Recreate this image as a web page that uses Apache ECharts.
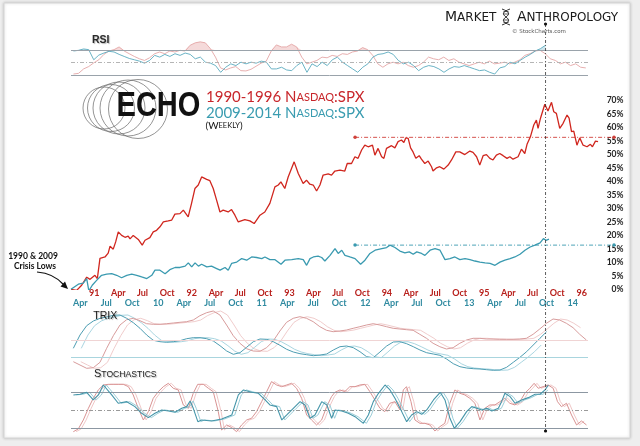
<!DOCTYPE html>
<html><head><meta charset="utf-8">
<script src="https://cdn.jsdelivr.net/npm/echarts@6/dist/echarts.min.js"></script>
<style>html,body{margin:0;padding:0;background:#eeeeee;}#c{width:640px;height:446px;}</style>
</head><body><div id="c"></div>
<script>
// ---------------- DATA ----------------
const redStartDate = '1990-10-06';   // 1990 crisis low (week 0 of red series)
const tealStartDate = '2009-02-27';  // 2009 crisis low (week 0 of teal series)

const redTickFirst = '1991-01-01';
const redTickLabels = ['91','Apr','Jul','Oct','92','Apr','Jul','Oct','93','Apr','Jul','Oct','94','Apr','Jul','Oct','95','Apr','Jul','Oct','96'];
const tealTickFirst = '2009-04-01';
const tealTickLabels = ['Apr','Jul','Oct','10','Apr','Jul','Oct','11','Apr','Jul','Oct','12','Apr','Jul','Oct','13','Apr','Jul','Oct','14'];
const pctTicks = [0,5,10,15,20,25,30,35,40,45,50,55,60,65,70];

// [weeks since low, % gain]
const redPrice = [[0,0],[3.0,-0.4],[5.7,1.5],[8.4,4.5],[10.2,3.7],[12.8,5.2],[14.1,4.0],[15.5,11.5],[18.2,12.0],[19.9,13.4],[20.9,16.0],[22.6,14.9],[23.9,17.6],[25.3,21.3],[27.1,20.0],[28.9,19.3],[30.6,19.7],[31.6,18.7],[33.3,20.0],[34.2,20.4],[36.0,18.5],[38.1,16.4],[39.6,18.2],[42.2,19.2],[44.0,21.3],[45.8,21.9],[47.6,23.2],[49.4,25.0],[52.0,25.4],[53.9,25.7],[55.6,27.9],[58.3,28.1],[60.1,29.4],[62.7,26.9],[64.5,31.9],[66.3,37.4],[68.1,38.7],[69.9,41.7],[72.6,40.8],[74.3,40.3],[76.1,37.4],[77.9,33.1],[79.7,28.7],[81.4,29.4],[84.1,28.7],[85.9,29.6],[87.7,27.5],[89.5,25.0],[93.0,25.9],[95.7,25.4],[98.0,24.4],[101.1,27.5],[103.7,28.7],[106.4,31.9],[109.1,38.0],[110.9,38.7],[112.3,39.9],[114.4,37.4],[116.2,41.7],[119.4,47.3],[121.6,43.0],[124.2,39.3],[126.0,40.5],[127.8,39.0],[129.6,38.7],[131.4,36.5],[133.2,38.7],[134.9,42.4],[137.6,42.8],[139.4,42.4],[141.2,43.9],[143.9,44.2],[146.5,43.9],[147.8,46.7],[150.1,46.7],[151.9,49.2],[153.6,48.6],[155.5,51.7],[157.2,53.5],[159.0,52.9],[161.3,53.5],[162.6,49.8],[164.3,52.3],[166.2,49.2],[167.4,48.6],[168.8,52.3],[171.5,53.3],[173.3,52.5],[175.0,54.8],[176.8,55.4],[178.1,54.5],[179.1,56.2],[180.4,56.0],[181.7,52.5],[183.0,51.0],[184.5,48.6],[186.3,49.6],[187.5,48.3],[189.3,46.7],[191.1,47.6],[192.9,45.5],[193.7,43.9],[195.6,45.1],[197.3,45.5],[199.5,44.6],[201.8,46.1],[203.6,48.0],[205.9,51.0],[208.0,51.0],[210.7,50.0],[213.4,51.3],[215.1,50.8],[217.0,49.2],[218.7,46.1],[220.5,49.6],[222.3,50.0],[224.1,48.6],[225.8,48.0],[227.6,49.8],[229.4,50.4],[231.2,49.6],[233.3,48.6],[234.8,49.2],[236.5,48.3],[239.2,49.2],[241.0,52.0],[242.8,50.4],[244.0,53.8],[245.8,56.6],[247.6,61.0],[249.0,62.8],[249.9,59.7],[251.2,63.5],[253.5,68.7],[255.2,66.2],[257.1,69.4],[258.3,65.9],[259.7,65.3],[261.5,59.7],[263.3,61.6],[265.4,64.7],[266.5,63.5],[267.8,58.5],[269.0,58.7],[270.7,53.5],[272.2,56.2],[274.0,53.5],[276.1,52.9],[277.9,53.8],[279.0,52.9],[280.6,55.0],[282.0,54.8]];
const tealPrice = [[0,0],[3.7,1.9],[6.2,2.3],[7.9,4.0],[9.0,-0.6],[10.7,1.5],[12.9,3.3],[15.4,5.2],[18.0,5.6],[20.5,5.8],[23.0,5.2],[25.5,4.3],[28.1,5.2],[30.6,5.6],[33.1,5.2],[35.6,4.6],[38.2,4.0],[40.7,5.2],[42.3,7.1],[44.8,7.1],[47.4,5.8],[49.8,7.3],[52.4,8.1],[54.9,8.1],[57.5,8.6],[59.1,9.8],[60.8,8.3],[62.5,9.8],[64.2,8.6],[65.8,9.3],[68.4,8.3],[70.8,8.6],[73.4,7.7],[75.1,7.1],[77.6,8.1],[79.2,7.1],[80.9,9.6],[83.5,10.1],[86.0,11.4],[88.5,10.8],[91.0,12.0],[93.5,11.8],[96.1,11.4],[97.7,12.0],[100.2,11.0],[102.8,11.0],[105.8,9.3],[107.8,10.8],[111.2,11.0],[114.5,11.4],[117.0,11.0],[118.7,8.9],[120.4,11.4],[122.1,12.0],[124.5,12.3],[126.3,11.8],[127.9,10.5],[130.5,12.6],[133.0,15.1],[134.6,13.3],[136.4,14.5],[138.0,12.6],[140.5,12.0],[143.1,11.4],[145.9,9.3],[148.1,10.8],[150.6,13.3],[153.2,14.5],[156.6,15.1],[159.0,15.5],[160.7,16.4],[163.2,15.5],[165.7,14.2],[168.2,13.5],[170.4,13.9],[172.4,13.0],[174.2,13.9],[176.6,13.3],[178.3,12.6],[180.9,14.5],[183.4,15.1],[185.9,14.5],[188.4,11.0],[190.9,11.4],[193.4,12.0],[195.9,11.0],[198.5,11.4],[201.0,11.0],[203.5,10.5],[206.0,10.1],[208.6,9.8],[211.1,9.6],[213.6,8.9],[216.1,10.1],[218.6,10.8],[221.2,11.4],[223.6,12.0],[226.2,13.0],[228.7,14.5],[231.3,15.7],[233.7,16.4],[236.3,17.2],[238.0,18.8],[239.3,18.2],[240.8,18.6]];

const redRefStartWeek = 152.0, redRefLevel = 56.4;
const tealRefStartWeek = 143.1, tealRefLevel = 16.4;
const markerRedWeek = 253.9;  // vertical dashed marker (red-series week)

// RSI samples (uniform sampling in weeks)
const redRsiStart = 1.32, redRsiStep = 2.714;
const redRsi = [31.6,32.7,39.9,43.7,49.7,54.7,63.4,68.9,71.1,75.5,68.9,64.5,60.1,56.3,53.6,57.9,64.5,67.3,64.5,68.9,67.3,70,68.9,78.2,82.1,83.7,82.1,72.7,59,41.5,38.2,41.5,43.7,37.1,36.6,39.3,44.2,49.2,52.5,68.9,78.8,75.5,75.5,79.9,75.5,59,48.1,50.8,53.6,59,57.9,61.8,60.1,64.5,63.4,67.3,68.9,74.4,71.1,61.8,48.1,42.6,48.1,50.8,48.1,50.8,45.3,42.6,45.3,50.8,59,56.3,54.7,59,53.6,56.3,50.8,48.1,45.3,48.1,50.8,48.1,52.5,48.1,49.2,50.8,48.1,50.8,54.7,61.8,64.5,68.9,70,64.5,56.3,53.6,48.1,50.8,45.3,48.1,42.6,41.5];
const tealRsiStart = 1.24, tealRsiStep = 2.557;
const tealRsi = [68.9,70,72.2,71.1,54.7,62.3,65.6,68.4,67.3,63.4,60.1,56.8,54.7,52.5,49.2,53.6,61.8,59,63.4,60.1,64.5,61.8,65.6,63.4,56.3,59,50.8,49.2,45.3,34.4,42.6,48.1,45.3,50.8,48.1,50.8,49.2,52.5,50.8,39.9,39.9,42.6,38.2,37.1,45.3,50.8,34.4,48.1,43.7,50.8,45.3,54.7,59,50.8,45.3,39.9,34.4,42.6,48.1,59,63.4,64.5,67.3,63.4,53.6,48.1,50.8,45.3,37.1,42.6,45.3,43.7,39.9,34.4,39.9,43.7,42.6,45.3,42.6,39.9,37.1,38.2,34.4,31.6,41.5,43.7,50.8,48.1,53.6,59,63.4,68.9,72.7,78.2];

// TRIX samples
const redTrixStart = 1.25, redTrixStep = 3.565;
const redTrix = [-0.217,-0.25,-0.283,-0.277,-0.223,-0.083,0.043,0.15,0.203,0.217,0.193,0.163,0.157,0.157,0.163,0.17,0.177,0.183,0.2,0.243,0.273,0.29,0.25,0.15,0.043,-0.033,-0.087,-0.11,-0.113,-0.077,-0.01,0.09,0.177,0.217,0.233,0.217,0.183,0.133,0.097,0.083,0.09,0.1,0.117,0.133,0.15,0.163,0.15,0.133,0.117,0.11,0.103,0.097,0.057,0.017,-0.033,-0.067,-0.09,-0.077,-0.033,0,0.017,0.017,0.01,0.01,0.007,0.007,0.007,0.01,0.017,0.057,0.11,0.167,0.21,0.2,0.167,0.123,0.057,0];
const tealTrixStart = 1.18, tealTrixStep = 3.358;
const tealTrix = [0.087,0.22,0.313,0.36,0.387,0.4,0.417,0.42,0.387,0.343,0.287,0.22,0.167,0.153,0.147,0.153,0.163,0.183,0.193,0.193,0.183,0.16,0.113,0.06,0.027,0.043,0.097,0.153,0.18,0.177,0.153,0.117,0.077,0.05,0.033,0.023,0.013,0.02,0.03,0.07,0.103,0.11,0.093,0.053,0.003,-0.007,0.05,0.11,0.15,0.153,0.133,0.103,0.07,0.043,0.03,0.017,-0.02,-0.067,-0.097,-0.11,-0.117,-0.12,-0.127,-0.133,-0.13,-0.103,-0.053,-0.003,0.053,0.12,0.187,0.253];
const trixSignalLag = 4;

// Stochastics [week, value]
const redStoch = [[1.25,14.4],[3.9,18.9],[6.6,33.9],[9.3,53.3],[11.9,70],[14.6,83.9],[17.3,92.2],[20,93.3],[22.6,93.3],[25.3,93.3],[28,93.3],[30.7,89.4],[33.3,75.6],[36,53.3],[38.7,33.9],[41.4,47.8],[44,70],[46.7,81.1],[49.4,89.4],[52.1,95],[54.7,86.7],[57.4,83.9],[60.1,58.9],[62.8,53.3],[65.4,78.3],[67.8,93.3],[70.8,93.3],[73.5,86.7],[76.1,81.1],[78.8,47.8],[80.6,17.2],[83.3,25.6],[86,21.1],[88.6,14.4],[91.3,25.6],[94,33.9],[96.6,36.7],[99.3,47.8],[102,64.4],[104.7,81.1],[107.3,97.8],[110,92.2],[112.7,89.4],[115.4,92.2],[118,95],[120.7,86.7],[123.4,70],[126.1,42.2],[128.7,33.9],[131.4,25.6],[134.1,33.9],[136.8,56.1],[139.4,72.8],[141.2,80],[143.9,83.9],[146.5,81.1],[149.2,89.4],[151.9,89.4],[154.6,92.2],[157.2,93.3],[159.9,81.1],[162.6,67.2],[165.3,53.3],[167.9,47.8],[170.6,61.7],[173.3,64.4],[176,50.6],[177.8,83.9],[179.5,89.4],[181.9,64.4],[184,33.9],[186.7,28.3],[189.3,28.3],[192,25.6],[194.7,15.6],[197.4,22.8],[200,28.3],[202.7,61.7],[205.4,83.9],[208.1,78.3],[210.7,75.6],[213.4,70],[216.1,61.7],[218.8,33.9],[221.4,53.3],[224.1,58.9],[226.8,58.9],[229.5,64.4],[232.1,70],[234.8,61.7],[237.5,58.9],[240.2,64.4],[242.8,78.3],[245.5,86.7],[247.8,95],[250,86.7],[252.6,89.4],[255.3,92.2],[258,86.7],[260.3,64.4],[262.4,56.1],[265.1,61.7],[267.8,42.2],[270.5,25.6],[273.1,32.2],[275.8,25.6]];
const tealStoch = [[1.2,75.6],[4.5,76.7],[7.9,80],[11.2,67.2],[13.8,75.6],[16.3,92.2],[20.5,75.6],[23.8,61.7],[28.1,64.4],[32.2,56.1],[35.6,45],[39.0,37.8],[42.3,45],[45.7,50.6],[49.1,48.9],[52.4,46.7],[55.8,53.3],[58.3,56.1],[60.0,65.6],[61.6,53.3],[63.9,31.1],[65.8,33.9],[70.8,32.2],[75.9,35.6],[81.0,42.2],[84.3,75.6],[86.9,83.9],[91.0,80],[94.4,78.3],[97.8,67.2],[100.2,58.9],[103.6,56.1],[106.2,33.9],[108.7,42.2],[112.0,53.3],[115.4,64.4],[117.9,58.9],[120.4,36.7],[122.9,42.2],[126.3,64.4],[128.9,58.9],[131.3,36.7],[133.0,50.6],[136.4,48.9],[139.7,45],[143.1,39.4],[147.3,28.3],[149.8,42.2],[152.3,64.4],[154.9,78.3],[158.2,92.2],[160.7,83.9],[163.2,70],[166.6,47.8],[169.1,31.1],[171.6,42.2],[174.2,47.8],[176.7,43.3],[179.2,50.6],[182.6,67.2],[186.0,80],[188.4,67.2],[190.9,36.7],[193.1,20],[196.0,31.1],[199.3,47.8],[201.9,56.1],[204.4,53.3],[206.9,50.6],[209.4,53.3],[212.0,48.9],[215.3,53.3],[216.9,64.4],[218.6,78.3],[221.2,72.8],[223.7,61.7],[227.0,67.2],[230.4,71.1],[233.8,76.7],[236.3,76.7],[238.8,83.9],[240.5,92.2]];
const stochSignalLag = 1.5;

// ---------------- HELPERS ----------------
function dms(s){const p=s.split('-').map(Number);return Date.UTC(p[0],p[1]-1,p[2]);}
function quarterWeeks(first,n,start){const p=first.split('-').map(Number);const s=dms(start);const o=[];for(let k=0;k<n;k++){o.push((Date.UTC(p[0],p[1]-1+3*k,1)-s)/(7*864e5));}return o;}
function uniform(vals,start,step){return vals.map((v,i)=>[start+i*step,v]);}
function lagged(pairs,lag){const last=pairs[pairs.length-1][0];return pairs.map(p=>[p[0]+lag,p[1]]).filter(p=>p[0]<=last);}
function nearestLabel(ticks,labels){return v=>{let b=0;for(let i=1;i<ticks.length;i++){if(Math.abs(ticks[i]-v)<Math.abs(ticks[b]-v))b=i;}return labels[b];};}

const redTicks = quarterWeeks(redTickFirst, redTickLabels.length, redStartDate);
const tealTicks = quarterWeeks(tealTickFirst, tealTickLabels.length, tealStartDate);

// ---------------- LAYOUT ----------------
const RED_PPW = 1.869, TEAL_PPW = 1.985;  // pixels per week on each overlay scale
const LEFT = 71, IND_W = 517, MAIN_W = 543;
const grids = [
  {left:LEFT, top:31.8, width:IND_W, height:61.75},
  {left:LEFT, top:100.7, width:MAIN_W, height:188.6},
  {left:LEFT, top:310, width:IND_W, height:62},
  {left:LEFT, top:380.3, width:IND_W, height:60}
];
const C = {
  red:'#d0261e', teal:'#3a9ab0', redLbl:'#b8201c', tealLbl:'#2f8aa0',
  rsiRed:'#e4a6a6', rsiTeal:'#5aaabe',
  trixRed:'#d89c9c', trixRed2:'#eec6c6', trixTeal:'#4d9db2', trixTeal2:'#9fd0dc',
  stRed:'#d99393', stRed2:'#edc0c0', stTeal:'#4495a9', stTeal2:'#90c7d4'
};
const FONT = 'Lato, "Open Sans", "DejaVu Sans", sans-serif';

function xAx(gi, ppw, extra){
  return Object.assign({type:'value', gridIndex:gi, min:0, max:grids[gi].width/ppw, show:true,
    axisLine:{show:false}, axisTick:{show:false}, splitLine:{show:false}, axisLabel:{show:false}}, extra||{});
}
const hid = {axisLine:{show:false}, axisTick:{show:false}, splitLine:{show:false}, axisLabel:{show:false}};

const xAxis = [
  xAx(0,RED_PPW), xAx(0,TEAL_PPW),
  xAx(1,RED_PPW,{position:'bottom', axisLabel:{show:true, customValues:redTicks, formatter:nearestLabel(redTicks,redTickLabels),
     color:C.redLbl, fontWeight:'bold', fontSize:9, fontFamily:FONT, margin:-1}}),
  xAx(1,TEAL_PPW,{position:'bottom', offset:10, axisLabel:{show:true, customValues:tealTicks, formatter:nearestLabel(tealTicks,tealTickLabels),
     color:C.tealLbl, fontWeight:'bold', fontSize:9, fontFamily:FONT, margin:-1}}),
  xAx(2,RED_PPW), xAx(2,TEAL_PPW),
  xAx(3,RED_PPW), xAx(3,TEAL_PPW)
];
const yAxis = [
  Object.assign({type:'value', gridIndex:0, min:0, max:100}, hid),
  {type:'value', gridIndex:1, min:pctTicks[0], max:pctTicks[pctTicks.length-1], interval:pctTicks[1]-pctTicks[0], position:'right',
    axisLine:{show:false}, axisTick:{show:false}, splitLine:{show:false},
    axisLabel:{formatter:'{value}%', align:'right', margin:9.5, fontSize:8.5, fontWeight:'bold', color:'#222', fontFamily:FONT}},
  Object.assign({type:'value', gridIndex:2, min:-0.32, max:0.30}, hid),
  Object.assign({type:'value', gridIndex:2, min:-0.15, max:0.47}, hid),
  Object.assign({type:'value', gridIndex:3, min:0, max:100}, hid)
];

function ln(name, xi, yi, data, color, width, z, extra){
  return Object.assign({type:'line', name, xAxisIndex:xi, yAxisIndex:yi, data, showSymbol:false, symbol:'none',
    lineStyle:{color, width}, itemStyle:{color}, z, silent:true, animation:false}, extra||{});
}
function hLines(levels){
  return {silent:true, symbol:'none', label:{show:false}, animation:false,
    data: levels.map(l=>({yAxis:l.v, lineStyle:{color:l.c, width:l.w||1, type:l.t||'solid'}}))};
}

const redRsiP = uniform(redRsi, redRsiStart, redRsiStep);
const tealRsiP = uniform(tealRsi, tealRsiStart, tealRsiStep);
const redTrixP = uniform(redTrix, redTrixStart, redTrixStep);
const tealTrixP = uniform(tealTrix, tealTrixStart, tealTrixStep);

const series = [
  // RSI
  ln('rsiRedHi',0,0, redRsiP.map(p=>[p[0],Math.max(p[1],70)]), C.rsiRed, 0, 1, {areaStyle:{origin:70, color:'rgba(228,160,160,0.55)'}}),
  ln('rsiRedLo',0,0, redRsiP.map(p=>[p[0],Math.min(p[1],30)]), C.rsiRed, 0, 1, {areaStyle:{origin:30, color:'rgba(228,160,160,0.55)'}}),
  ln('rsiTealHi',1,0, tealRsiP.map(p=>[p[0],Math.max(p[1],70)]), C.rsiTeal, 0, 1, {areaStyle:{origin:70, color:'rgba(120,185,205,0.5)'}}),
  ln('rsiRed',0,0, redRsiP, C.rsiRed, 0.9, 3, {markLine:hLines([{v:70,c:'#9aa3ab'},{v:50,c:'#b5b5b5',t:[4,2,1,2]},{v:30,c:'#9aa3ab'}])}),
  ln('rsiTeal',1,0, tealRsiP, C.rsiTeal, 0.9, 4),
  // MAIN
  ln('redRef',2,1, [[redRefStartWeek,redRefLevel],[grids[1].width/RED_PPW,redRefLevel]], '#d0403a', 0.9, 2,
     {showSymbol:true, symbol:'circle', symbolSize:3.5, lineStyle:{color:'#d0403a', width:0.9, type:[4,2,1,2]}}),
  ln('tealRef',3,1, [[tealRefStartWeek,tealRefLevel],[grids[1].width/TEAL_PPW,tealRefLevel]], '#3a9ab0', 0.9, 2,
     {showSymbol:true, symbol:'circle', symbolSize:3.5, lineStyle:{color:'#3a9ab0', width:0.9, type:[4,2,1,2]}}),
  ln('1990-1996 Nasdaq:SPX',2,1, redPrice, C.red, 1.3, 5),
  ln('2009-2014 Nasdaq:SPX',3,1, tealPrice, C.teal, 1.3, 5),
  // TRIX
  ln('trixRedSig',4,2, lagged(redTrixP,trixSignalLag), C.trixRed2, 0.9, 2, {markLine:hLines([{v:0,c:'#f0d4d4'}])}),
  ln('trixRed',4,2, redTrixP, C.trixRed, 1, 3),
  ln('trixTealSig',5,3, lagged(tealTrixP,trixSignalLag), C.trixTeal2, 0.9, 2, {markLine:hLines([{v:0,c:'#a9d5de'}])}),
  ln('trixTeal',5,3, tealTrixP, C.trixTeal, 1, 4),
  // STOCHASTICS
  ln('stRedD',6,4, lagged(redStoch,stochSignalLag), C.stRed2, 0.9, 2,
     {markLine:hLines([{v:80,c:'#8c97a2'},{v:50,c:'#9a9a9a',t:[4,2,1,2]},{v:20,c:'#8c97a2'}])}),
  ln('stRed',6,4, redStoch, C.stRed, 1, 3),
  ln('stTealD',7,4, lagged(tealStoch,stochSignalLag), C.stTeal2, 0.9, 4),
  ln('stTeal',7,4, tealStoch, C.stTeal, 1.1, 5)
];

const chart = echarts.init(document.getElementById('c'));
chart.setOption({animation:false, backgroundColor:'#eeeeee', grid:grids, xAxis, yAxis, series});

function st(o){return Object.assign({align:'left', verticalAlign:'middle', textAlign:'left', textVerticalAlign:'middle'}, o);}
function txt(x,y,text,font,fill,align,more){
  const s = st({text, font, fill}); if(align){s.align=align; s.textAlign=align;}
  return Object.assign({type:'text', x, y, z:20, silent:true, style:Object.assign(s, more||{})});
}
function rich(x,y,text,richDef,fill,extra){
  return Object.assign({type:'text', x, y, z:20, silent:true, style:st({text, rich:richDef, fill})}, extra||{});
}
const shadow = {textShadowColor:'rgba(0,0,0,0.28)', textShadowBlur:1, textShadowOffsetX:1, textShadowOffsetY:1};
function bez(x1,y1,cx1,cy1,cx2,cy2,x2,y2,stroke,w){
  return {type:'bezierCurve', z:20, silent:true, shape:{x1,y1,cpx1:cx1,cpy1:cy1,cpx2:cx2,cpy2:cy2,x2,y2}, style:{fill:'none', stroke, lineWidth:w}};
}
function seg(x1,y1,x2,y2,stroke,w){return {type:'line', z:20, silent:true, shape:{x1,y1,x2,y2}, style:{stroke, lineWidth:w}};}

const mx = chart.convertToPixel({xAxisIndex:2}, markerRedWeek);
const circles = [[104,108,21],[111,108,23.5],[119,108,26],[128,108,28],[138,109,29.5]];
const headFontA = '14px "DejaVu Sans", sans-serif', headFontB = '12px "DejaVu Sans", sans-serif';
const panelFont = '"Liberation Sans", Arial, sans-serif';
const graphic = [
  {type:'rect', z:-10, silent:true, shape:{x:4,y:3,width:626,height:435},
   style:{fill:'#ffffff', stroke:'#d6d6d6', lineWidth:1, shadowBlur:3, shadowColor:'rgba(0,0,0,0.18)'}},
  ...circles.map(c=>({type:'circle', z:5, silent:true, shape:{cx:c[0],cy:c[1],r:c[2]}, style:{fill:'none', stroke:'#666', lineWidth:0.7}})),
  txt(116.5,106,'ECHO','bold 35px "Liberation Sans", Arial, sans-serif','#111',null),
  rich(206,97.5,'{a|1990-1996 N}{b|ASDAQ}{a|:SPX}',{a:{font:'15px '+FONT, fill:'#c8262b'}, b:{font:'11px '+FONT, fill:'#c8262b'}},'#c8262b'),
  rich(206,113.3,'{a|2009-2014 N}{b|ASDAQ}{a|:SPX}',{a:{font:'15px '+FONT, fill:'#3a9cb0'}, b:{font:'11px '+FONT, fill:'#3a9cb0'}},'#3a9cb0'),
  rich(205.5,126,'{a|(W}{b|EEKLY}{a|)}',{a:{font:'10px '+FONT, fill:'#111'}, b:{font:'7.5px '+FONT, fill:'#111'}},'#111'),
  // header
  rich(445,17.5,'{a|M}{b|ARKET}',{a:{font:headFontA, fill:'#1a1a1a'}, b:{font:headFontB, fill:'#1a1a1a'}},'#1a1a1a'),
  rich(517,17.5,'{a|A}{b|NTHROPOLOGY}',{a:{font:headFontA, fill:'#1a1a1a'}, b:{font:headFontB, fill:'#1a1a1a'}},'#1a1a1a'),
  bez(502,9,510,12,510,14,506,17,'#333',1), bez(506,17,502,20,502,22,510,25,'#333',1),
  bez(510,9,502,12,502,14,506,17,'#333',1), bez(506,17,510,20,510,22,502,25,'#333',1),
  seg(503.5,11.5,508.5,11.5,'#333',0.8), seg(503.5,14,508.5,14,'#333',0.8), seg(503.5,20,508.5,20,'#333',0.8), seg(503.5,22.5,508.5,22.5,'#333',0.8),
  txt(512,31.5,'© StockCharts.com','5.5px "DejaVu Sans", sans-serif','#555',null),
  // panel titles
  txt(92,40.5,'RSI','bold 10.5px '+panelFont,'#2a2a2a',null,shadow),
  txt(93.3,315.7,'TRIX','10.5px '+panelFont,'#1e1e1e',null,shadow),
  rich(94,374.3,'{a|S}{b|TOCHASTICS}',{a:Object.assign({font:'11px '+panelFont, fill:'#1e1e1e'},shadow), b:Object.assign({font:'8.6px '+panelFont, fill:'#1e1e1e'},shadow)},'#1e1e1e'),
  // annotation
  txt(33,256.7,'1990 & 2009','bold 8.5px '+FONT,'#111','center'),
  txt(35,266,'Crisis Lows','bold 8.5px '+FONT,'#111','center'),
  bez(37,272,50,273,58,278,64,285,'#111',1.2),
  {type:'polygon', z:20, silent:true, shape:{points:[[68,289],[60.5,286.5],[65,281.5]]}, style:{fill:'#111'}},
  // vertical marker
  {type:'line', z:15, silent:true, shape:{x1:mx,y1:24,x2:mx,y2:431}, style:{stroke:'#333', lineWidth:0.8, lineDash:[3,2,1,2]}},
  {type:'circle', z:16, silent:true, shape:{cx:mx,cy:24,r:1.6}, style:{fill:'#111'}},
  {type:'circle', z:16, silent:true, shape:{cx:mx,cy:431,r:1.6}, style:{fill:'#111'}}
];
// ECHO wordmark is condensed in the reference
graphic[6].scaleX = 0.83;
chart.setOption({graphic});
</script></body></html>
